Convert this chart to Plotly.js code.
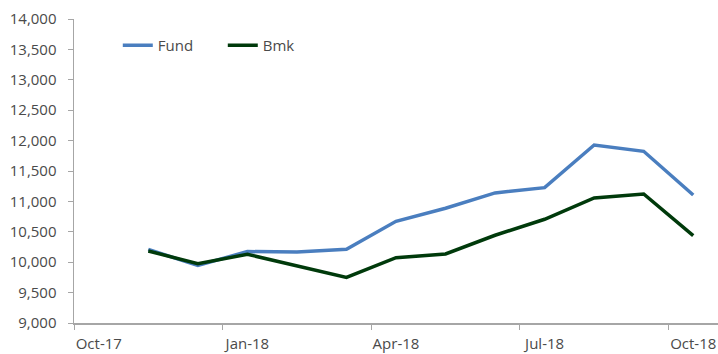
<!DOCTYPE html>
<html>
<head>
<meta charset="utf-8">
<script src="https://cdn.plot.ly/plotly-3.0.1.min.js"></script>
<style>html,body{margin:0;padding:0;background:#fff;}#chart{width:718px;height:354px;}</style>
</head>
<body>
<div id="chart"></div>
<script>
// Category axis (months), first category has no data
const categories = ['Oct-17','Nov-17','Dec-17','Jan-18','Feb-18','Mar-18','Apr-18','May-18','Jun-18','Jul-18','Aug-18','Sep-18','Oct-18'];
const months = ['Nov-17','Dec-17','Jan-18','Feb-18','Mar-18','Apr-18','May-18','Jun-18','Jul-18','Aug-18','Sep-18','Oct-18'];
const fund = [10210, 9945, 10175, 10168, 10212, 10673, 10887, 11139, 11226, 11928, 11824, 11106];
const bmk  = [10184, 9976, 10130, 9943, 9750, 10074, 10135, 10443, 10706, 11056, 11122, 10436];

const font = {family: 'Open Sans, sans-serif', size: 15, color: '#4A4A4A'};

const traces = [
  {x: months, y: fund, name: 'Fund', type: 'scatter', mode: 'lines',
   line: {color: '#4A7EBF', width: 3.5, shape: 'linear'}},
  {x: months, y: bmk, name: 'Bmk', type: 'scatter', mode: 'lines',
   line: {color: '#003A0B', width: 3.5, shape: 'linear'}}
];

const layout = {
  width: 718, height: 354,
  margin: {l: 74, r: 0, t: 19, b: 31},
  paper_bgcolor: '#ffffff', plot_bgcolor: '#ffffff',
  font: font,
  showlegend: true,
  legend: {orientation: 'h', x: 0.068, xanchor: 'left', y: 0.913, yanchor: 'middle',
           font: font, entrywidth: 60, entrywidthmode: 'pixels', bgcolor: 'rgba(0,0,0,0)'},
  xaxis: {type: 'category', categoryorder: 'array', categoryarray: categories,
          range: [-0.5, 12.5], tickmode: 'linear', tick0: 0, dtick: 3, tickangle: 0,
          tickson: 'boundaries', ticks: 'outside', ticklen: 5, tickcolor: '#A6A6A6',
          ticklabelstandoff: 6,
          showline: true, linecolor: '#A6A6A6', linewidth: 1.5, showgrid: false, zeroline: false,
          tickfont: font, fixedrange: true},
  yaxis: {range: [9000, 14000], tickmode: 'linear', tick0: 9000, dtick: 500,
          tickformat: ',d', ticks: 'outside', ticklen: 5, tickcolor: '#A6A6A6',
          ticklabelstandoff: 8,
          showline: true, linecolor: '#A6A6A6', linewidth: 1.5, showgrid: false, zeroline: false,
          tickfont: font, fixedrange: true}
};

Plotly.newPlot('chart', traces, layout, {staticPlot: true, displayModeBar: false});
</script>
</body>
</html>
